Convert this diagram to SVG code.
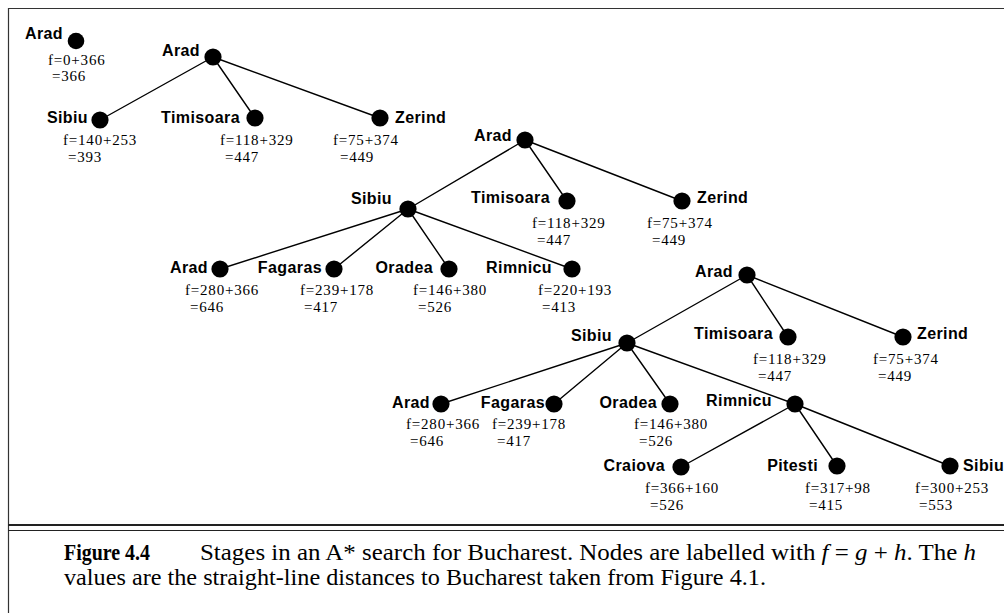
<svg xmlns="http://www.w3.org/2000/svg" width="1004" height="613" viewBox="0 0 1004 613">
<style>
.lbl{font-family:"Liberation Sans",Arial,sans-serif;font-weight:bold;font-size:16px;letter-spacing:0.4px;fill:#000;text-anchor:end}
.lr{text-anchor:start}
.fv{font-family:"Liberation Serif","Times New Roman",serif;font-size:15px;letter-spacing:0.8px;fill:#000}
.nd{fill:#000}
.edge{stroke:#000;stroke-width:1.4;fill:none}
.frame{stroke:#333;stroke-width:1.2;fill:none}
.cap{font-family:"Liberation Serif","Times New Roman",serif;font-size:23px;fill:#000}
.capb{font-weight:bold}
.it{font-style:italic}
</style>
<rect width="1004" height="613" fill="#fff"/>
<g id="frame">
<path class="frame" d="M8.5,613 V8.5 H1004"/>
<line x1="8" y1="525" x2="1004" y2="525" stroke="#222" stroke-width="2"/>
<line x1="8" y1="530.5" x2="1004" y2="530.5" stroke="#222" stroke-width="1.2"/>
</g>
<g id="connectors">
<path class="edge" d="M213,57 L100,120 M213,57 L255,118 M213,57 L380,118"/>
<path class="edge" d="M525,140 L408,209 M525,140 L567,201 M525,140 L682,201"/>
<path class="edge" d="M408,209 L220,269 M408,209 L334,269 M408,209 L449,269 M408,209 L572,269"/>
<path class="edge" d="M747,275 L627,343 M747,275 L788,337 M747,275 L903,337"/>
<path class="edge" d="M627,343 L441,404 M627,343 L554,404 M627,343 L670,404 M627,343 L795,404"/>
<path class="edge" d="M795,404 L681,467 M795,404 L837,466 M795,404 L950,466"/>
</g>
<!-- Stage 1 -->
<g id="s1-arad"><circle class="nd" cx="76" cy="41" r="8.3"/><text class="lbl" x="63" y="38.5">Arad</text><text class="fv" x="48" y="65">f=0+366</text><text class="fv" x="52" y="81">=366</text></g>
<!-- Stage 2 -->
<g id="s2-arad"><circle class="nd" cx="213" cy="57" r="8.6"/><text class="lbl" x="200" y="56">Arad</text></g>
<g id="s2-sibiu"><circle class="nd" cx="100" cy="120" r="8.6"/><text class="lbl" x="88" y="122.5">Sibiu</text><text class="fv" x="63" y="145">f=140+253</text><text class="fv" x="68" y="162">=393</text></g>
<g id="s2-timisoara"><circle class="nd" cx="255" cy="118" r="8.6"/><text class="lbl" x="240" y="122.5">Timisoara</text><text class="fv" x="220" y="145">f=118+329</text><text class="fv" x="225" y="162">=447</text></g>
<g id="s2-zerind"><circle class="nd" cx="380" cy="118" r="8.6"/><text class="lbl lr" x="395" y="122.5">Zerind</text><text class="fv" x="333" y="145">f=75+374</text><text class="fv" x="340" y="162">=449</text></g>
<!-- Stage 3 -->
<g id="s3-arad"><circle class="nd" cx="525" cy="140" r="8.6"/><text class="lbl" x="512" y="140.5">Arad</text></g>
<g id="s3-sibiu"><circle class="nd" cx="408" cy="209" r="8.6"/><text class="lbl" x="392" y="203.5">Sibiu</text></g>
<g id="s3-timisoara"><circle class="nd" cx="567" cy="201" r="8.6"/><text class="lbl" x="550" y="202.5">Timisoara</text><text class="fv" x="532" y="228">f=118+329</text><text class="fv" x="537" y="245">=447</text></g>
<g id="s3-zerind"><circle class="nd" cx="682" cy="201" r="8.6"/><text class="lbl lr" x="697" y="202.5">Zerind</text><text class="fv" x="647" y="228">f=75+374</text><text class="fv" x="652" y="245">=449</text></g>
<g id="s3-arad2"><circle class="nd" cx="220" cy="269" r="8.6"/><text class="lbl" x="208" y="272.5">Arad</text><text class="fv" x="185" y="295">f=280+366</text><text class="fv" x="190" y="312">=646</text></g>
<g id="s3-fagaras"><circle class="nd" cx="334" cy="269" r="8.6"/><text class="lbl" x="322" y="272.5">Fagaras</text><text class="fv" x="300" y="295">f=239+178</text><text class="fv" x="304" y="312">=417</text></g>
<g id="s3-oradea"><circle class="nd" cx="449" cy="269" r="8.6"/><text class="lbl" x="433" y="272.5">Oradea</text><text class="fv" x="413" y="295">f=146+380</text><text class="fv" x="418" y="312">=526</text></g>
<g id="s3-rimnicu"><circle class="nd" cx="572" cy="269" r="8.6"/><text class="lbl" x="552" y="272.5">Rimnicu</text><text class="fv" x="538" y="295">f=220+193</text><text class="fv" x="542" y="312">=413</text></g>
<!-- Stage 4 -->
<g id="s4-arad"><circle class="nd" cx="747" cy="275" r="8.6"/><text class="lbl" x="733" y="276.5">Arad</text></g>
<g id="s4-sibiu"><circle class="nd" cx="627" cy="343" r="8.6"/><text class="lbl" x="612" y="340.5">Sibiu</text></g>
<g id="s4-timisoara"><circle class="nd" cx="788" cy="337" r="8.6"/><text class="lbl" x="773" y="338.5">Timisoara</text><text class="fv" x="753" y="364">f=118+329</text><text class="fv" x="758" y="381">=447</text></g>
<g id="s4-zerind"><circle class="nd" cx="903" cy="337" r="8.6"/><text class="lbl lr" x="917" y="338.5">Zerind</text><text class="fv" x="873" y="364">f=75+374</text><text class="fv" x="878" y="381">=449</text></g>
<g id="s4-arad2"><circle class="nd" cx="441" cy="404" r="8.6"/><text class="lbl" x="430" y="407.5">Arad</text><text class="fv" x="406" y="429">f=280+366</text><text class="fv" x="410" y="446">=646</text></g>
<g id="s4-fagaras"><circle class="nd" cx="554" cy="404" r="8.6"/><text class="lbl" x="545" y="407.5">Fagaras</text><text class="fv" x="492" y="429">f=239+178</text><text class="fv" x="497" y="446">=417</text></g>
<g id="s4-oradea"><circle class="nd" cx="670" cy="404" r="8.6"/><text class="lbl" x="657" y="407.5">Oradea</text><text class="fv" x="634" y="429">f=146+380</text><text class="fv" x="639" y="446">=526</text></g>
<g id="s4-rimnicu"><circle class="nd" cx="795" cy="404" r="8.6"/><text class="lbl" x="772" y="405.5">Rimnicu</text></g>
<g id="s4-craiova"><circle class="nd" cx="681" cy="467" r="8.6"/><text class="lbl" x="665" y="470.5">Craiova</text><text class="fv" x="645" y="493">f=366+160</text><text class="fv" x="650" y="510">=526</text></g>
<g id="s4-pitesti"><circle class="nd" cx="837" cy="466" r="8.6"/><text class="lbl" x="818" y="470.5">Pitesti</text><text class="fv" x="805" y="493">f=317+98</text><text class="fv" x="809" y="510">=415</text></g>
<g id="s4-sibiu2"><circle class="nd" cx="950" cy="466" r="8.6"/><text class="lbl lr" x="963" y="470.5">Sibiu</text><text class="fv" x="915" y="493">f=300+253</text><text class="fv" x="919" y="510">=553</text></g>
<g id="caption">
<text class="cap capb" x="64" y="560" textLength="86" lengthAdjust="spacingAndGlyphs">Figure 4.4</text>
<text class="cap" x="200" y="560" textLength="776" lengthAdjust="spacingAndGlyphs">Stages in an A* search for Bucharest.  Nodes are labelled with <tspan class="it">f</tspan> = <tspan class="it">g</tspan> + <tspan class="it">h</tspan>.  The <tspan class="it">h</tspan></text>
<text class="cap" x="64" y="585" textLength="702" lengthAdjust="spacingAndGlyphs">values are the straight-line distances to Bucharest taken from Figure 4.1.</text>
</g>
</svg>
